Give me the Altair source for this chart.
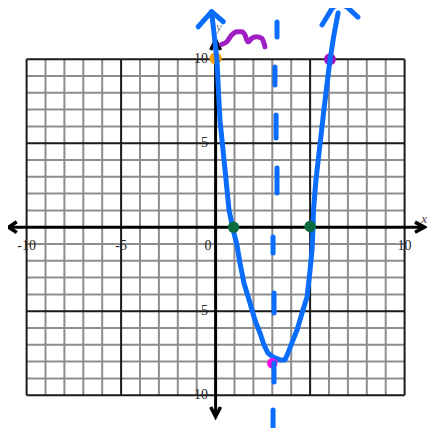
import altair as alt
import pandas as pd

# ---------------- data ----------------
minor_lines = [-9, -8, -7, -6, -4, -3, -2, -1, 1, 2, 3, 4, 6, 7, 8, 9]
major_lines = [-10, -5, 5, 10]
grid_lo, grid_hi = -10, 10

# x tick labels
xlab_vals = [-10, -5, -0.4, 10]
xlab_text = ["-10", "-5", "0", "10"]
xlab_y = -1.1
# y tick labels
ylab_vals = [10, 5, -5, -10]
ylab_text = ["10", "5", "-5", "-10"]
ylab_x = -0.4

# axis extents
xaxis_lo, xaxis_hi = -10.95, 11.05
yaxis_lo, yaxis_hi = -11.28, 11.14

# arrowheads of the axes (chevrons)
axarrow_g = ["l", "l", "l", "r", "r", "r", "b", "b", "b", "t", "t", "t"]
axarrow_x = [-10.52, -10.95, -10.52, 10.55, 11.05, 10.55, -0.26, 0.0, 0.26, -0.26, 0.0, 0.26]
axarrow_y = [0.32, 0.0, -0.32, 0.3, 0.0, -0.3, -10.7, -11.28, -10.7, 10.55, 11.14, 10.55]

# hand drawn parabola (blue)
curve_x = [-0.21, 0.07, 0.23, 0.50, 0.71, 0.92, 1.13, 1.29, 1.50, 1.82, 2.08, 2.35,
           2.56, 2.77, 3.04, 3.41, 3.67, 3.83, 4.10, 4.31, 4.62, 4.84, 5.00, 5.10,
           5.15, 5.18, 5.31, 5.52, 5.73, 5.89, 6.05, 6.26, 6.48]
curve_y = [12.83, 9.95, 6.38, 3.40, 1.02, -0.11, -1.06, -2.13, -3.32, -4.51, -5.52, -6.30,
           -7.01, -7.49, -7.73, -7.90, -7.90, -7.49, -6.71, -6.12, -4.93, -4.15, -2.55, -1.36,
           -0.17, 1.02, 2.81, 4.89, 6.98, 8.46, 9.95, 11.44, 12.75]

# hand drawn arrowheads (blue)
head_g = ["L", "L", "L", "R", "R", "R", "R", "R"]
head_x = [-0.92, -0.21, 0.41, 5.63, 6.21, 6.58, 6.95, 7.53]
head_y = [11.93, 12.83, 12.23, 12.04, 13.11, 13.29, 13.11, 12.51]

# dashed axis of symmetry (blue dashes)
dash_x = [3.25, 3.14, 3.20, 3.25, 3.04, 3.09, 3.09, 3.04]
dash_y1 = [12.21, 9.54, 6.68, 3.52, -0.58, -3.92, -8.08, -10.88]
dash_y2 = [11.32, 8.46, 5.31, 2.04, -1.54, -5.11, -9.21, -12.19]

# purple squiggle
sq_x = [0.32, 0.59, 0.85, 1.12, 1.38, 1.56, 1.65, 1.73, 1.91, 2.17, 2.44, 2.56, 2.61]
sq_y = [10.88, 11.04, 11.44, 11.64, 11.64, 11.44, 11.14, 11.04, 11.24, 11.34, 11.24, 10.95, 10.74]

# points
orange_pt = (0.0, 10.05)
purple_pt = (6.05, 10.0)
green_x = [0.95, 5.0]
green_y = [0.0, 0.05]
magenta_pt = (3.0, -8.1)

# ---------------- scales ----------------
X0, X1 = -10.984, 11.185
Y0, Y1 = -11.952, 13.048
xs = alt.Scale(domain=[X0, X1], nice=False, zero=False)
ys = alt.Scale(domain=[Y0, Y1], nice=False, zero=False)


def X(f):
    return alt.X(f, type="quantitative", scale=xs, axis=None)


def Y(f):
    return alt.Y(f, type="quantitative", scale=ys, axis=None)


# ---------------- grid ----------------
minor_df = pd.DataFrame({"v": minor_lines, "a": grid_lo, "b": grid_hi})
major_df = pd.DataFrame({"v": major_lines, "a": grid_lo, "b": grid_hi})

minor_v = alt.Chart(minor_df).mark_rule(color="#8d8d8d", strokeWidth=2).encode(
    x=X("v"), y=Y("a"), y2="b")
minor_h = alt.Chart(minor_df).mark_rule(color="#8d8d8d", strokeWidth=2).encode(
    y=Y("v"), x=X("a"), x2="b")
major_v = alt.Chart(major_df).mark_rule(color="#1a1a1a", strokeWidth=2).encode(
    x=X("v"), y=Y("a"), y2="b")
major_h = alt.Chart(major_df).mark_rule(color="#1a1a1a", strokeWidth=2).encode(
    y=Y("v"), x=X("a"), x2="b")

# ---------------- axes ----------------
xaxis_df = pd.DataFrame({"a": [xaxis_lo], "b": [xaxis_hi], "c": [0]})
yaxis_df = pd.DataFrame({"a": [yaxis_lo], "b": [yaxis_hi], "c": [0]})
xaxis = alt.Chart(xaxis_df).mark_rule(color="black", strokeWidth=3).encode(
    x=X("a"), x2="b", y=Y("c"))
yaxis = alt.Chart(yaxis_df).mark_rule(color="black", strokeWidth=3).encode(
    y=Y("a"), y2="b", x=X("c"))
ax_df = pd.DataFrame({"g": axarrow_g, "x": axarrow_x, "y": axarrow_y,
                      "i": list(range(len(axarrow_g)))})
ax_arrows = alt.Chart(ax_df).mark_line(color="black", strokeWidth=3.5,
                                       strokeJoin="miter", strokeCap="butt").encode(
    x=X("x"), y=Y("y"), detail="g:N", order="i:Q")

# ---------------- labels ----------------
font = "Liberation Serif"
xl_df = pd.DataFrame({"x": xlab_vals, "t": xlab_text, "y": xlab_y})
yl_df = pd.DataFrame({"y": ylab_vals, "t": ylab_text, "x": ylab_x})
xlabels = alt.Chart(xl_df).mark_text(font=font, fontSize=14, color="#262626",
                                     baseline="middle", align="center").encode(
    x=X("x"), y=Y("y"), text="t:N")
ylabels = alt.Chart(yl_df).mark_text(font=font, fontSize=14, color="#262626",
                                     baseline="middle", align="right").encode(
    x=X("x"), y=Y("y"), text="t:N")
yname_df = pd.DataFrame({"x": [0.02], "y": [11.92], "t": ["y"]})
yname = alt.Chart(yname_df).mark_text(font=font, fontSize=13, fontStyle="italic",
                                      color="#777777", align="left",
                                      baseline="middle").encode(
    x=X("x"), y=Y("y"), text="t:N")
xname_df = pd.DataFrame({"x": [X1], "y": [0.0], "t": ["x"]})
xname = alt.Chart(xname_df).mark_text(font=font, fontSize=13, fontStyle="italic",
                                      color="#444444", align="right",
                                      baseline="bottom", dy=-1).encode(
    x=X("x"), y=Y("y"), text="t:N")

# ---------------- points ----------------
def dot(x, y, color, size=140):
    df = pd.DataFrame({"x": [x], "y": [y]})
    return alt.Chart(df).mark_circle(color=color, opacity=1, size=size).encode(
        x=X("x"), y=Y("y"))


orange = dot(orange_pt[0], orange_pt[1], "#f6a10a", size=150)
purple = dot(purple_pt[0], purple_pt[1], "#9c12c6")
magenta = dot(magenta_pt[0], magenta_pt[1], "#f20ae0", size=110)
green_df = pd.DataFrame({"x": green_x, "y": green_y})
green = alt.Chart(green_df).mark_circle(color="#0c6b3c", opacity=1, size=130).encode(
    x=X("x"), y=Y("y"))

# ---------------- hand drawing ----------------
blue = "#0a6dfc"
curve_df = pd.DataFrame({"x": curve_x, "y": curve_y, "i": list(range(len(curve_x)))})
curve = alt.Chart(curve_df).mark_line(color=blue, strokeWidth=5, strokeCap="round",
                                      strokeJoin="round", clip=False).encode(
    x=X("x"), y=Y("y"), order="i:Q")
head_df = pd.DataFrame({"g": head_g, "x": head_x, "y": head_y,
                        "i": list(range(len(head_g)))})
heads = alt.Chart(head_df).mark_line(color=blue, strokeWidth=5, strokeCap="round",
                                     strokeJoin="round", clip=False).encode(
    x=X("x"), y=Y("y"), detail="g:N", order="i:Q")
dash_df = pd.DataFrame({"x": dash_x, "a": dash_y1, "b": dash_y2})
dashes = alt.Chart(dash_df).mark_rule(color=blue, strokeWidth=5, strokeCap="round").encode(
    x=X("x"), y=Y("a"), y2="b")
sq_df = pd.DataFrame({"x": sq_x, "y": sq_y, "i": list(range(len(sq_x)))})
squiggle = alt.Chart(sq_df).mark_line(color="#a01fc4", strokeWidth=5, strokeCap="round",
                                      strokeJoin="round", interpolate="monotone").encode(
    x=X("x"), y=Y("y"), order="i:Q")

chart = alt.layer(
    minor_v, minor_h, major_v, major_h, xaxis, yaxis, ax_arrows,
    xlabels, ylabels, yname, xname,
    orange, purple, curve, heads, green, magenta, dashes, squiggle,
).properties(
    width=419, height=420,
    autosize=alt.AutoSizeParams(type="none"),
    padding=0,
    background="white",
).configure_view(stroke=None)

chart.save("out.html", embed_options={"renderer": "svg", "actions": False})
